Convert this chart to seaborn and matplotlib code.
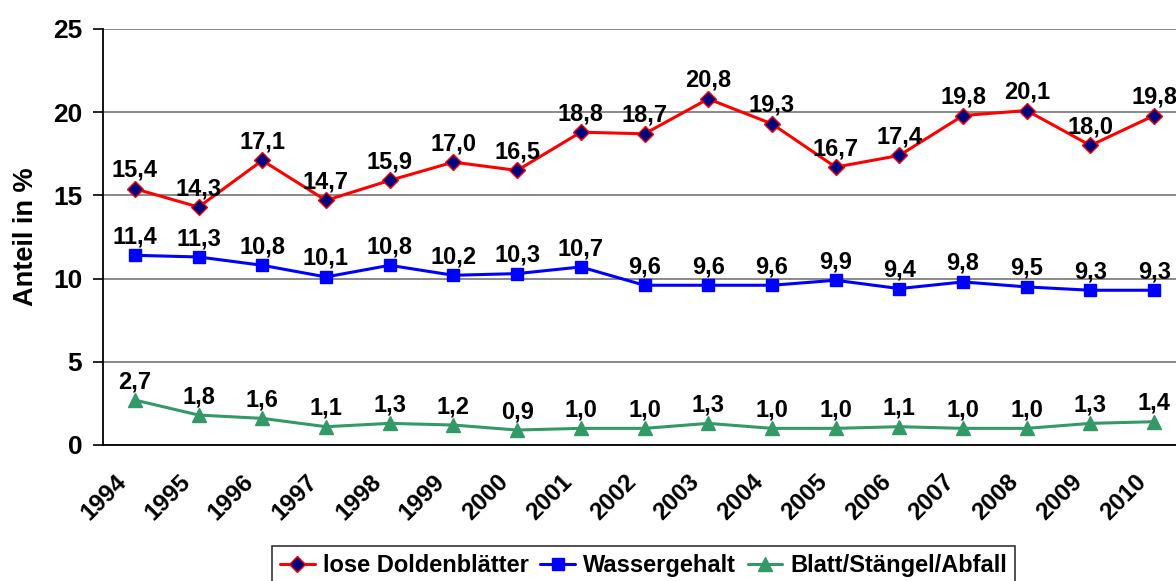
import numpy as np
import pandas as pd
import matplotlib
matplotlib.use('Agg')
import matplotlib.pyplot as plt
import matplotlib.transforms as mtransforms
import seaborn as sns

# data
years = [str(y) for y in range(1994, 2011)]
dolden = [15.4, 14.3, 17.1, 14.7, 15.9, 17.0, 16.5, 18.8, 18.7, 20.8, 19.3, 16.7, 17.4, 19.8, 20.1, 18.0, 19.8]
wasser = [11.4, 11.3, 10.8, 10.1, 10.8, 10.2, 10.3, 10.7, 9.6, 9.6, 9.6, 9.9, 9.4, 9.8, 9.5, 9.3, 9.3]
abfall = [2.7, 1.8, 1.6, 1.1, 1.3, 1.2, 0.9, 1.0, 1.0, 1.3, 1.0, 1.0, 1.1, 1.0, 1.0, 1.3, 1.4]
series_names = ['lose Doldenblätter', 'Wassergehalt', 'Blatt/Stängel/Abfall']

sns.set_style('white')
plt.rcParams['font.family'] = ['Liberation Sans', 'DejaVu Sans']
plt.rcParams['font.weight'] = 'bold'
plt.rcParams['text.color'] = 'black'
plt.rcParams['axes.labelcolor'] = 'black'
plt.rcParams['xtick.color'] = 'black'
plt.rcParams['ytick.color'] = 'black'

fig = plt.figure(figsize=(11.76, 5.81), dpi=100)
ax = fig.add_axes([103 / 1176, 1 - 445 / 581, 1083 / 1176, 416 / 581])

x = np.arange(len(years))
styles = [
    dict(color='#FF0000', marker='D', markersize=8, markerfacecolor='#000080', markeredgecolor='#FF0000'),
    dict(color='#0000FF', marker='s', markersize=8, markerfacecolor='#0000FF', markeredgecolor='#0000FF'),
    dict(color='#339966', marker='^', markersize=10, markerfacecolor='#339966', markeredgecolor='#339966'),
]
for vals, name, st in zip([dolden, wasser, abfall], series_names, styles):
    df = pd.DataFrame({'x': x, 'y': vals})
    sns.lineplot(data=df, x='x', y='y', ax=ax, label=name, linewidth=2.2,
                 markeredgewidth=1, **st)
    for xi, v in zip(x, vals):
        ax.annotate(f'{v:.1f}'.replace('.', ','), (xi, v), xytext=(0, 5),
                    textcoords='offset points', ha='center', va='bottom',
                    fontsize=17, fontweight='bold', color='black')

ax.set_xlim(-0.5, len(years) - 0.5)
ax.set_ylim(0, 25)
ax.set_yticks([0, 5, 10, 15, 20, 25])
ax.set_yticklabels(['0', '5', '10', '15', '20', '25'], fontsize=19, fontweight='bold')
ax.yaxis.grid(True, color='#808080', linewidth=1.3)
ax.set_axisbelow(True)

# boundary ticks, labels at category centres
ax.set_xticks(np.arange(-0.5, len(years), 1))
ax.set_xticklabels([])
ax.set_xticks(x, minor=True)
ax.set_xticklabels(years, minor=True, rotation=45, ha='right', va='center',
                   rotation_mode='anchor', fontsize=17.5, fontweight='bold')
ax.tick_params(axis='x', which='major', length=8, width=1.2, color='black', direction='out')
ax.tick_params(axis='x', which='minor', length=0, pad=24)
ax.tick_params(axis='y', length=7, width=1.2, color='black', direction='out', left=True, pad=8)
offset = mtransforms.ScaledTranslation(-12 / 100, 0, fig.dpi_scale_trans)
for lab in ax.get_xticklabels(minor=True):
    lab.set_transform(lab.get_transform() + offset)

for s in ['top', 'right']:
    ax.spines[s].set_visible(False)
for s in ['left', 'bottom']:
    ax.spines[s].set_color('black')
    ax.spines[s].set_linewidth(1.3)

ax.set_xlabel('')
ax.set_ylabel('Anteil in %', fontsize=19.5, fontweight='bold', labelpad=10)

ax.get_legend().remove()
handles, labels = ax.get_legend_handles_labels()
leg = fig.legend(handles, labels, loc='upper left', bbox_to_anchor=(272 / 1176, 1 - 546 / 581),
                 ncol=3, frameon=True, fancybox=False, edgecolor='black',
                 prop={'size': 17, 'weight': 'bold'}, handlelength=1.45,
                 handletextpad=0.35, columnspacing=0.5, borderpad=0.35,
                 borderaxespad=0)
leg.get_frame().set_linewidth(1.2)

fig.savefig('out.png', dpi=100)
